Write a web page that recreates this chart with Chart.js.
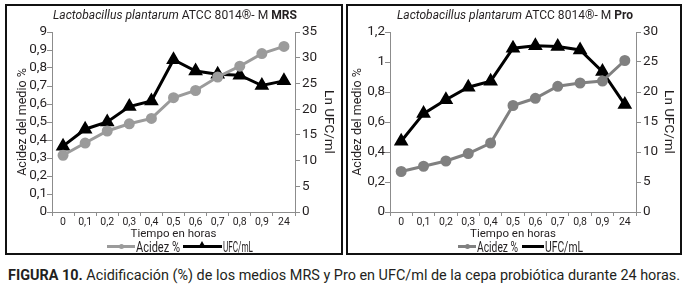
<!DOCTYPE html>
<html>
<head>
<meta charset="utf-8">
<script src="https://cdn.jsdelivr.net/npm/chart.js@4"></script>
<style>
  body { margin: 0; background: #fff; width: 687px; height: 296px; position: relative; overflow: hidden;
         font-family: Roboto, "Liberation Sans", sans-serif; color: #231f20; }
  .panel { position: absolute; border: 2px solid #111; box-sizing: border-box; }
  .panel canvas { position: absolute; left: 0; top: 0; }
  .fit { position: absolute; white-space: nowrap; transform-origin: 0 50%; line-height: 1; }
  .title { font-size: 12.5px; top: 9px; }
  .caption { font-size: 15.5px; left: 8px; top: 268px; }
  .leg { position: absolute; font-size: 14px; line-height: 1; white-space: nowrap; transform-origin: 0 50%; }
  .ln { position: absolute; height: 3px; }
  .dot { position: absolute; width: 5px; height: 5px; border-radius: 50%; }
  .tri { position: absolute; width: 0; height: 0; border-left: 4px solid transparent; border-right: 4px solid transparent; border-bottom: 7px solid #000; }
</style>
</head>
<body>
<div class="panel" id="p1" style="left:5px;top:4px;width:338px;height:251px;">
  <canvas id="myChart"></canvas>
</div>
<div class="panel" id="p2" style="left:346px;top:4px;width:336px;height:251px;">
  <canvas id="myChart2"></canvas>
</div>

<!-- titles, caption and legends (page coordinates) -->
<div class="fit title" data-x="53" data-w="244"><i>Lactobacillus plantarum</i> ATCC 8014®- M <b>MRS</b></div>
<div class="fit title" data-x="397" data-w="236"><i>Lactobacillus plantarum</i> ATCC 8014®- M <b>Pro</b></div>
<div class="fit caption" data-x="8" data-w="672"><b>FIGURA 10.</b> Acidificación (%) de los medios MRS y Pro en UFC/ml de la cepa probiótica durante 24 horas.</div>

<div class="ln" style="left:107px;top:245px;width:28px;background:#9b9b9b"></div>
<div class="dot" style="left:119px;top:244px;background:#9b9b9b"></div>
<div class="leg fit" data-x="136" data-w="44" style="top:240px">Acidez %</div>
<div class="ln" style="left:183px;top:245px;width:39px;background:#000"></div>
<div class="tri" style="left:198px;top:241px"></div>
<div class="leg fit" data-x="223" data-w="30" style="top:240px">UFC/mL</div>

<div class="ln" style="left:458px;top:245px;width:18px;background:#808080"></div>
<div class="dot" style="left:465px;top:244px;background:#808080"></div>
<div class="leg fit" data-x="477" data-w="41" style="top:240px">Acidez %</div>
<div class="ln" style="left:522px;top:245px;width:22px;background:#000"></div>
<div class="leg fit" data-x="545" data-w="38" style="top:240px">UFC/mL</div>

<script>
// DATA
const horas = ['0', '0,1', '0,2', '0,3', '0,4', '0,5', '0,6', '0,7', '0,8', '0,9', '24'];
const acidezMRS = [0.315, 0.383, 0.45, 0.49, 0.52, 0.635, 0.675, 0.75, 0.81, 0.88, 0.92];
const ufcMRS = [12.8, 16.1, 17.5, 20.5, 21.6, 29.6, 27.4, 26.8, 26.6, 24.6, 25.5];
const acidezPro = [0.27, 0.305, 0.34, 0.39, 0.46, 0.71, 0.758, 0.838, 0.86, 0.873, 1.01];
const ufcPro = [11.8, 16.4, 18.7, 20.8, 21.8, 27.3, 27.7, 27.6, 27.0, 23.4, 17.9];
const acidTicksMRS = ['0', '0,1', '0,2', '0,3', '0,4', '0,5', '0,6', '0,7', '0,8', '0,9', '9'];
const acidTicksPro = ['0', '0,2', '0,4', '0,6', '0,8', '1', '1,2'];

const FONT = 'Roboto, "Liberation Sans", sans-serif';
const TXT = '#231f20';
const AXIS = '#8c8c8c';

// squeeze html text to the width it has in the picture (the original font is condensed)
document.querySelectorAll('.fit').forEach((el) => {
  const w = el.getBoundingClientRect().width;
  el.style.left = el.dataset.x + 'px';
  el.style.transform = 'scaleX(' + (Number(el.dataset.w) / w) + ')';
});

function makeChart(id, w, h, acid, ufc, acidTicks, acidMax, acidStep, ufcMax, grey, leftW, rightW, leftPad, rightPad) {
  const cv = document.getElementById(id);
  cv.width = w; cv.height = h;
  cv.style.width = w + 'px'; cv.style.height = h + 'px';
  return new Chart(cv.getContext('2d'), {
    type: 'line',
    data: {
      labels: horas,
      datasets: [{
        label: 'Acidez %',
        data: acid,
        yAxisID: 'y',
        borderColor: grey,
        backgroundColor: grey,
        borderWidth: 3,
        pointRadius: 4,
        pointStyle: 'circle',
        tension: 0
      }, {
        label: 'UFC/mL',
        data: ufc,
        yAxisID: 'y2',
        borderColor: '#000',
        backgroundColor: '#000',
        borderWidth: 3,
        pointRadius: 5.5,
        pointStyle: 'triangle',
        tension: 0
      }]
    },
    options: {
      responsive: false,
      animation: false,
      layout: { padding: { top: 26, left: 0, right: 0, bottom: 0 } },
      plugins: {
        tooltip: { enabled: false },
        legend: { display: false }
      },
      scales: {
        x: {
          offset: true,
          grid: { offset: true, drawOnChartArea: false, tickLength: 4, color: AXIS },
          border: { color: AXIS, width: 1 },
          ticks: { color: TXT, font: { family: FONT, size: 10.5 }, maxRotation: 0, autoSkip: false, padding: 0 },
          title: { display: true, text: 'Tiempo en horas', color: TXT, font: { family: FONT, size: 11.5 }, padding: { top: 0, bottom: 12 } },
          afterFit: (s) => { s.height = 41; }
        },
        y: {
          position: 'left',
          min: 0, max: acidMax,
          grid: { drawOnChartArea: false, tickLength: 5, color: AXIS },
          border: { color: AXIS, width: 1 },
          ticks: { stepSize: acidStep, autoSkip: false, color: TXT, font: { family: FONT, size: 13.5 }, padding: 0,
                   callback: (v, i) => acidTicks[i] },
          title: { display: true, text: 'Acidez del medio %', color: TXT, font: { family: FONT, size: 12.5 }, padding: { top: leftPad, bottom: 0 } },
          afterFit: (s) => { s.width = leftW; }
        },
        y2: {
          position: 'right',
          min: 0, max: ufcMax,
          grid: { drawOnChartArea: false, tickLength: 5, color: AXIS },
          border: { color: AXIS, width: 1 },
          ticks: { stepSize: 5, autoSkip: false, color: TXT, font: { family: FONT, size: 13.5 }, padding: 2 },
          title: { display: true, text: 'Ln UFC/ml', color: TXT, font: { family: FONT, size: 13.5 }, padding: { top: rightPad, bottom: 0 } },
          afterFit: (s) => { s.width = rightW; }
        }
      }
    }
  });
}

// MRS PANEL
const myChart = makeChart('myChart', 334, 247, acidezMRS, ufcMRS, acidTicksMRS, 1.0, 0.1, 35, '#9b9b9b', 45, 46, 8, 5);
// PRO PANEL
const myChart2 = makeChart('myChart2', 332, 247, acidezPro, ufcPro, acidTicksPro, 1.2, 0.2, 30, '#808080', 42, 44, 2, 4);
</script>
</body>
</html>
